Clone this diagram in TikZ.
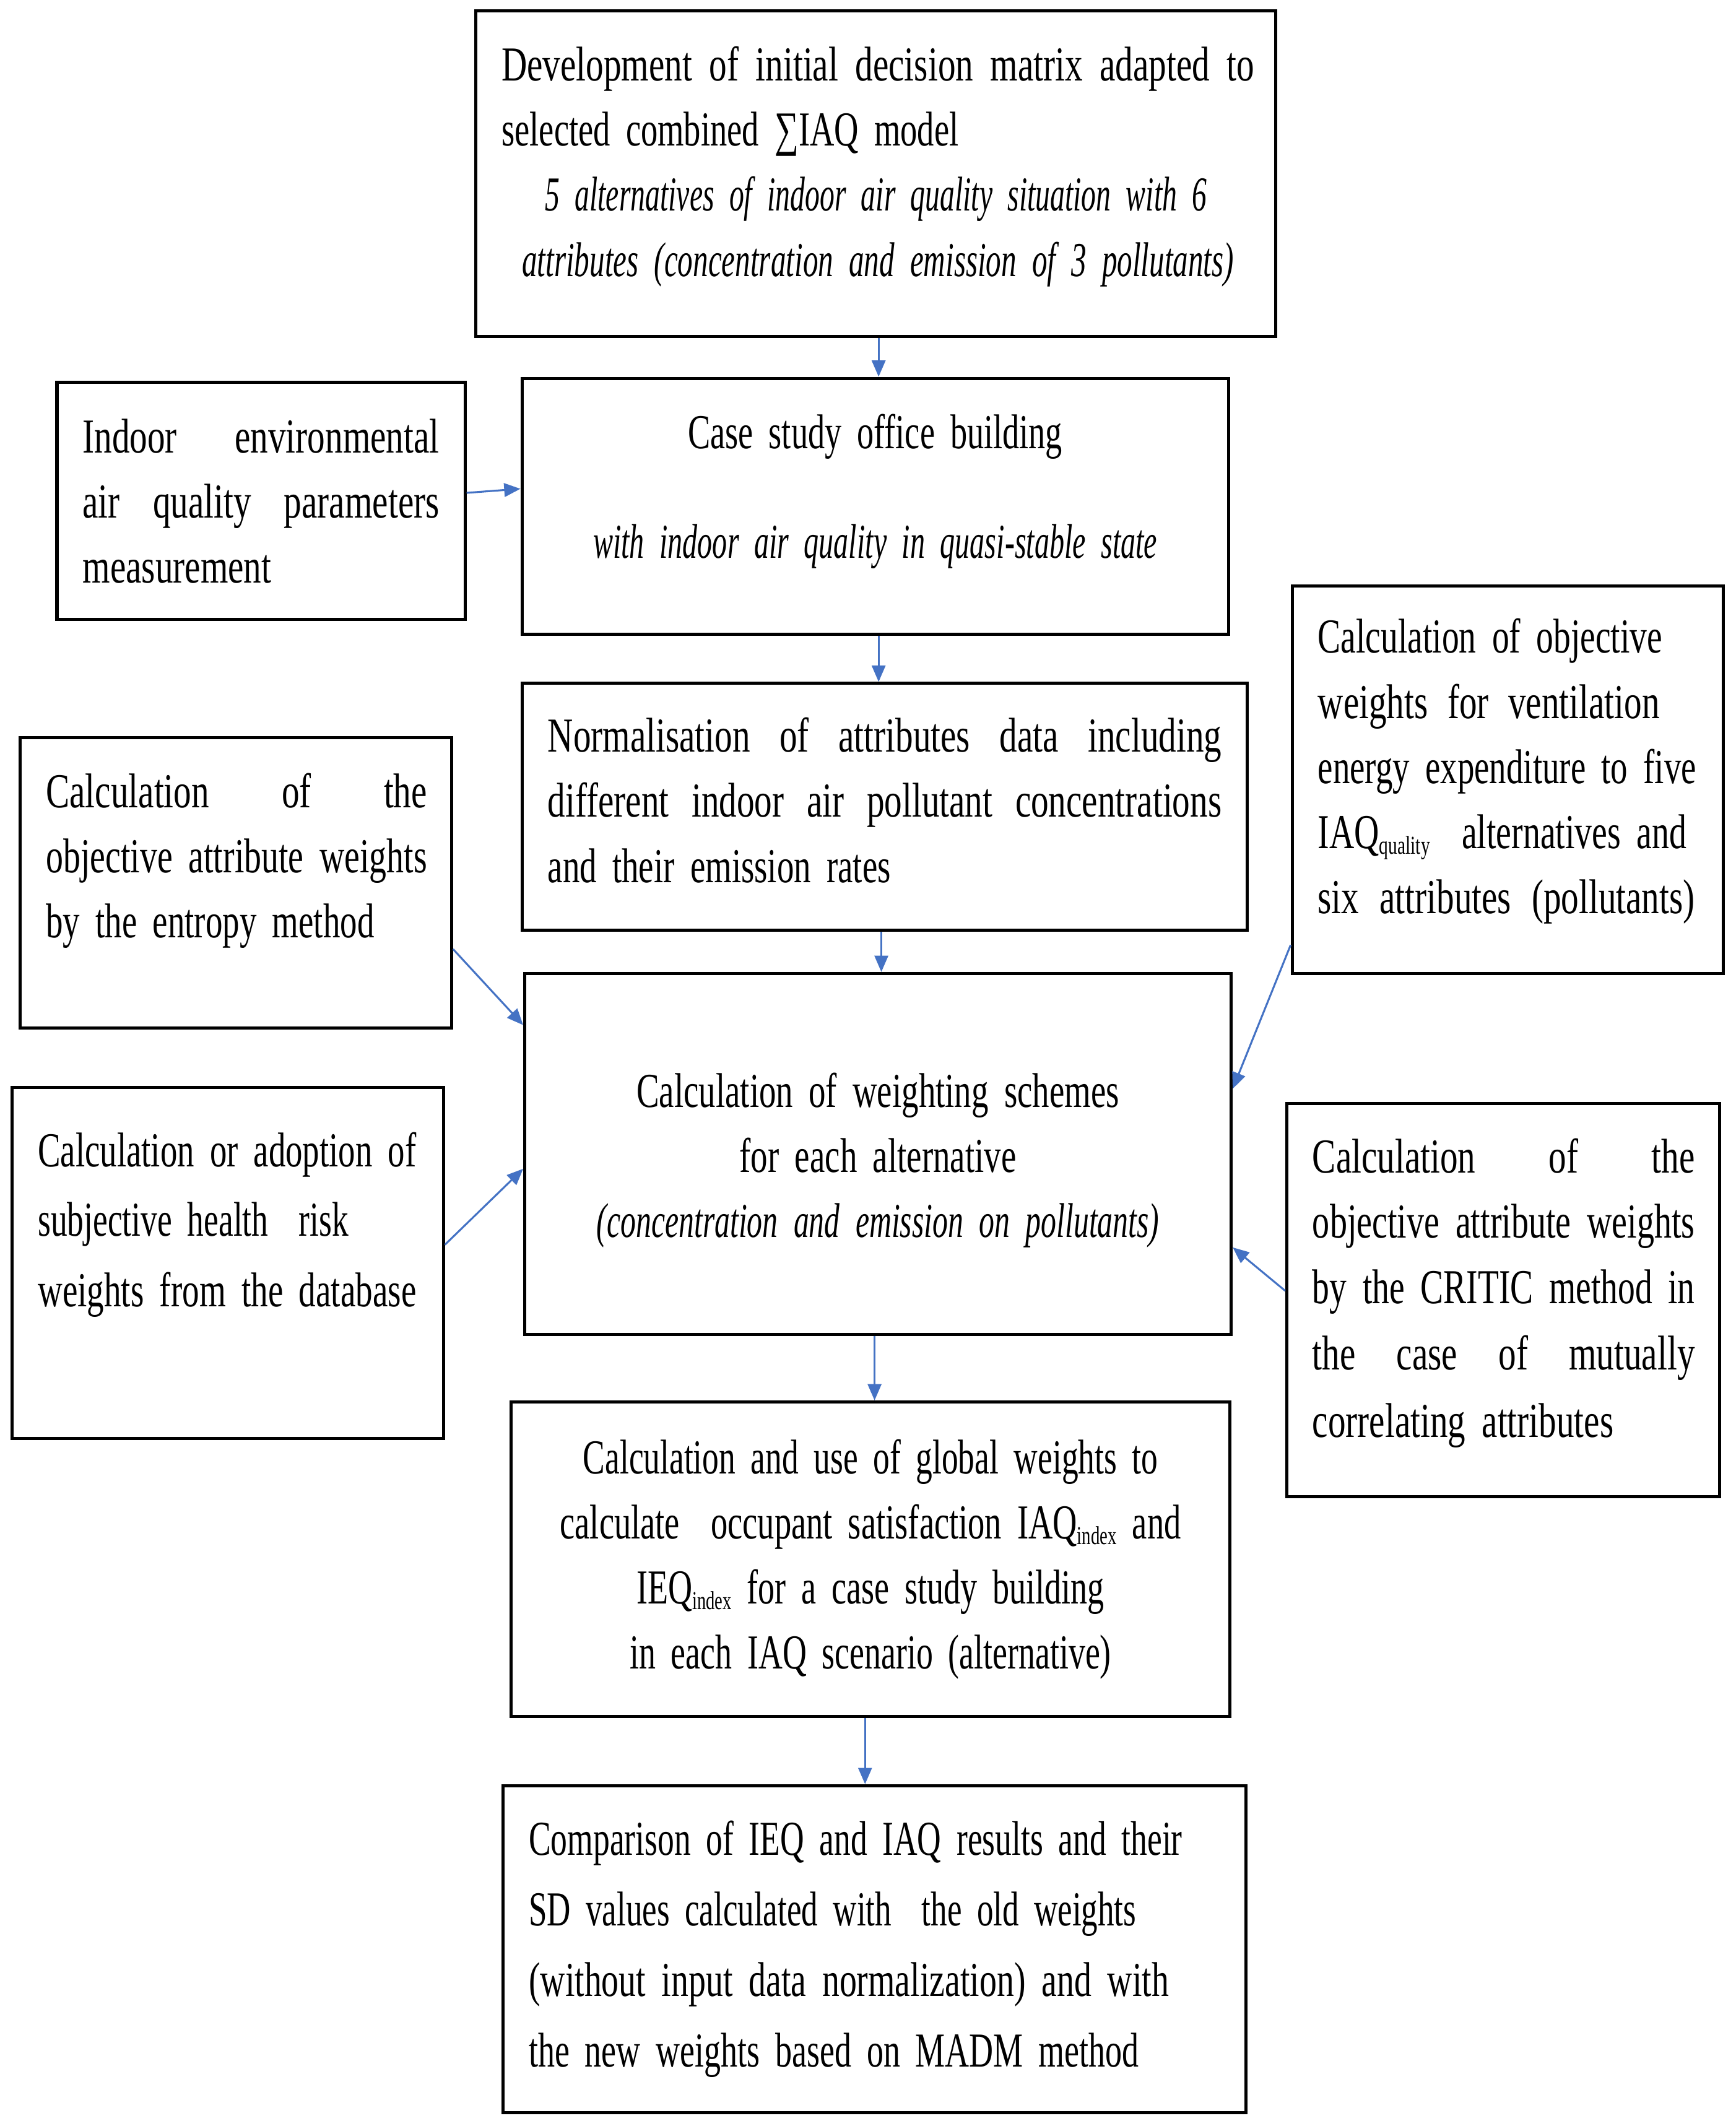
\documentclass[tikz,border=0pt]{standalone}
\usepackage{fontspec}
\usepackage{graphicx}
\setmainfont{Liberation Serif}[FakeStretch=0.725, WordSpace=0.6,
  ItalicFeatures={FakeStretch=0.655}]
\usetikzlibrary{arrows.meta}
\definecolor{arrblue}{RGB}{68,114,196}
\newsavebox\lnbox
% \fitl{width}{text}: set a line to exactly the given width
\newcommand{\fitl}[2]{%
  \sbox\lnbox{#2}%
  \ifdim\wd\lnbox>#1\relax
    \resizebox{#1}{\height}{\usebox\lnbox}%
  \else
    \makebox[#1][s]{\spaceskip=\fontdimen2\font plus 1fil\relax #2}%
  \fi}
\newcommand{\mysub}[1]{\raisebox{-0.12em}{\fontsize{19pt}{19pt}\selectfont #1}}
\tikzset{
  box/.style={draw=black, line width=2.3pt, rectangle, inner sep=0pt,
    font=\fontsize{36pt}{48pt}\selectfont},
  arr/.style={draw=arrblue, line width=1.4pt, -{Triangle[length=12pt,width=10pt]}}
}
\begin{document}
\begin{tikzpicture}[x=1pt,y=-1pt]
\useasboundingbox[fill=white] (0,0) rectangle (1280,1568);
% boxes
\node[box, align=left, minimum width=590pt, minimum height=240pt, text width=552pt] (A) at (646,128)
  {\fitl{555pt}{Development of initial decision matrix adapted to}\\
   \fitl{337pt}{selected combined ∑IAQ model}\\
   \hspace*{32pt}\fitl{488pt}{\itshape 5 alternatives of indoor air quality situation with 6}\\
   \hspace*{15pt}\fitl{525pt}{\itshape attributes (concentration and emission of 3 pollutants)}\\[-30pt]\mbox{}};
\node[box, align=center, minimum width=521pt, minimum height=189pt, text width=483pt] (B) at (645.5,373.5)
  {\fitl{276pt}{Case study office building}\\[33pt]
   \fitl{416pt}{\itshape with indoor air quality in quasi-stable state}\\[-18pt]\mbox{}};
\node[box, align=left, minimum width=301pt, minimum height=175pt, text width=263pt] (C) at (192.5,369.5)
  {\fitl{263pt}{Indoor environmental}\\
   \fitl{263pt}{air quality parameters}\\
   \fitl{144pt}{measurement}};
\node[box, align=left, minimum width=535pt, minimum height=182pt, text width=497pt] (D) at (652.5,595)
  {\fitl{497pt}{Normalisation of attributes data including}\\
   \fitl{497pt}{different indoor air pollutant concentrations}\\
   \fitl{253pt}{and their emission rates}\\[-38pt]\mbox{}};
\node[box, align=left, minimum width=318pt, minimum height=214pt, text width=280pt] (E) at (174,651)
  {\fitl{281pt}{Calculation of the}\\
   \fitl{281pt}{objective attribute weights}\\
   \fitl{242pt}{by the entropy method}\\[-8pt]\mbox{}};
\node[box, align=left, minimum width=318pt, minimum height=286pt, text width=280pt] (F) at (1112,575)
  {\fitl{254pt}{Calculation of objective}\\
   \fitl{252pt}{weights for ventilation}\\
   \fitl{279pt}{energy expenditure to five}\\
   \fitl{272pt}{IAQ\mysub{quality}\ \ alternatives and}\\
   \fitl{278pt}{six attributes (pollutants)}\\[-28pt]\mbox{}};
\node[box, align=center, minimum width=521pt, minimum height=266pt, text width=483pt] (G) at (647.5,851)
  {\fitl{356pt}{Calculation of weighting schemes}\\
   \fitl{204pt}{for each alternative}\\
   \fitl{415pt}{\itshape (concentration and emission on pollutants)}\\[-50pt]\mbox{}};
\node[box, align=left, minimum width=318pt, minimum height=259pt, text width=280pt] (H) at (168,931.5)
  {\fitl{279pt}{Calculation or adoption of}\\[3pt]
   \fitl{229pt}{subjective health\ \ risk}\\[4pt]
   \fitl{279pt}{weights from the database}\\[16pt]\mbox{}};
\node[box, align=left, minimum width=319pt, minimum height=290pt, text width=281pt] (I) at (1108.5,959)
  {\fitl{282pt}{Calculation of the}\\
   \fitl{282pt}{objective attribute weights}\\
   \fitl{282pt}{by the CRITIC method in}\\[1pt]
   \fitl{282pt}{the case of mutually}\\[2pt]
   \fitl{222pt}{correlating attributes}\\[-30pt]\mbox{}};
\node[box, align=center, minimum width=530pt, minimum height=232pt, text width=492pt] (J) at (642,1150)
  {\fitl{424pt}{Calculation and use of global weights to}\\
   \fitl{458pt}{calculate\ \ occupant satisfaction IAQ\mysub{index} and}\\
   \fitl{345pt}{IEQ\mysub{index} for a case study building}\\
   \fitl{355pt}{in each IAQ scenario (alternative)}};
\node[box, align=left, minimum width=548pt, minimum height=241pt, text width=510pt] (K) at (645,1437.5)
  {\fitl{482pt}{Comparison of IEQ and IAQ results and their}\\[4pt]
   \fitl{448pt}{SD values calculated with\ \ the old weights}\\[4pt]
   \fitl{472pt}{(without input data normalization) and with}\\[4pt]
   \fitl{450pt}{the new weights based on MADM method}};
% connectors
\draw[arr] ([xshift=2pt]A.south) -- ([xshift=2pt]A.south |- B.north);
\draw[arr] ([yshift=6pt]C.east) -- ([yshift=13pt]B.west);
\draw[arr] ([xshift=2.5pt]B.south) -- ([xshift=2.5pt]B.south |- D.north);
\draw[arr] ([xshift=-2.5pt]D.south) -- ([xshift=-2.5pt]D.south |- G.north);
\draw[arr] ([yshift=-49pt]E.east) -- ([yshift=95pt]G.west);
\draw[arr] ([yshift=13.5pt]H.east) -- ([yshift=-11pt]G.west);
\draw[arr] ([yshift=-122pt]F.west) -- ([yshift=48pt]G.east);
\draw[arr] ([yshift=7pt]I.west) -- ([yshift=-69pt]G.east);
\draw[arr] ([xshift=-2.5pt]G.south) -- ([xshift=-2.5pt]G.south |- J.north);
\draw[arr] ([xshift=-4pt]J.south) -- ([xshift=-4pt]J.south |- K.north);
\end{tikzpicture}
\end{document}
